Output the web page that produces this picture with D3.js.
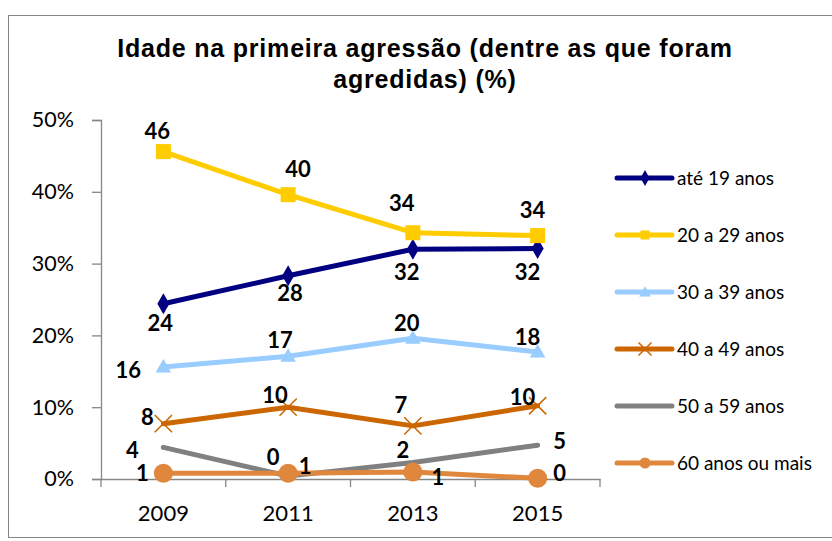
<!DOCTYPE html>
<html>
<head>
<meta charset="utf-8">
<script src="https://d3js.org/d3.v7.min.js"></script>
<style>
  body { margin: 0; background: #fff; }
</style>
</head>
<body>
<script>
// chart values (share of women, 0..1)
var years = ["2009", "2011", "2013", "2015"];
var seriesNames = ["até 19 anos", "20 a 29 anos", "30 a 39 anos", "40 a 49 anos", "50 a 59 anos", "60 anos ou mais"];
var ate19 = [0.244, 0.283, 0.320, 0.321];
var de20a29 = [0.456, 0.396, 0.343, 0.339];
var de30a39 = [0.156, 0.171, 0.196, 0.177];
var de40a49 = [0.077, 0.100, 0.074, 0.102];
var de50a59 = [0.044, 0.004, 0.023, 0.047];
var mais60 = [0.008, 0.008, 0.0097, 0.001];
var yTicks = [0, 0.1, 0.2, 0.3, 0.4, 0.5];

// look of each series
var colors = ["#000080", "#FFCC00", "#99CCFF", "#CC6600", "#808080", "#E0873E"];
var markers = ["diamond", "square", "triangle", "cross", "none", "circle"];

// where each data label sits relative to its point (dx, dy)
var labelOffsets = [
    [[-3, 19], [2, 17], [-6, 23], [-10, 24]],
    [[-6, -21], [10, -26], [-11, -30], [-5, -26]],
    [[-35, 3], [-8, -16], [-6, -15], [-10, -15]],
    [[-16, -7], [-13, -12], [-12, -21], [-15, -9]],
    [[-31, 3], [-15, -19], [-10, -12], [22, -4]],
    [[-21, 0], [17, -7], [25, 5], [22, -5]]
];

var allValues = [ate19, de20a29, de30a39, de40a49, de50a59, mais60];
var series = seriesNames.map(function (name, i) {
    return { name: name, values: allValues[i], color: colors[i], marker: markers[i], offsets: labelOffsets[i] };
});

var width = 832, height = 541;
var svg = d3.select("body").append("svg").attr("width", width).attr("height", height);

// outer chart border
svg.append("rect")
    .attr("x", 8.5).attr("y", 15.5)
    .attr("width", 830).attr("height", 522)
    .attr("fill", "#fff")
    .attr("stroke", "#868686")
    .attr("stroke-width", 1);

// title
var title = svg.append("text")
    .attr("text-anchor", "middle")
    .style("font-family", "'Liberation Sans', Arial, sans-serif")
    .style("font-weight", "bold")
    .style("font-size", "25px")
    .style("letter-spacing", "0.8px")
    .attr("fill", "#000");
title.append("tspan").attr("x", 425).attr("y", 57).text("Idade na primeira agressão (dentre as que foram");
title.append("tspan").attr("x", 425).attr("y", 88).text("agredidas) (%)");

var xScale = d3.scaleBand().domain(years).range([101, 600]);
var yScale = d3.scaleLinear().domain([0, 0.5]).range([479, 120]);
var xc = function (i) { return xScale(years[i]) + xScale.bandwidth() / 2; };

// y axis
var yAxis = svg.append("g")
    .attr("transform", "translate(101,0)")
    .call(d3.axisLeft(yScale).tickValues(yTicks).tickFormat(d3.format(".0%")).tickSize(9).tickPadding(18));
yAxis.select(".domain").attr("stroke", "#868686").attr("stroke-width", 1.3);
yAxis.selectAll(".tick line").attr("stroke", "#868686").attr("stroke-width", 1.3);
yAxis.selectAll(".tick text")
    .style("font-family", "Lato, 'Open Sans', sans-serif")
    .style("font-size", "21.5px")
    .attr("fill", "#000");

// x axis
var xAxis = svg.append("g")
    .attr("transform", "translate(0,479)")
    .call(d3.axisBottom(xScale).tickSize(0).tickPadding(26));
xAxis.select(".domain").attr("stroke", "#868686").attr("stroke-width", 1.3);
xAxis.selectAll(".tick text")
    .style("font-family", "Lato, 'Open Sans', sans-serif")
    .style("font-size", "22px")
    .attr("fill", "#000");
// category separators
var edges = [xScale.range()[0]].concat(years.map(function (d) { return xScale(d) + xScale.bandwidth(); }));
xAxis.selectAll(".sep")
    .data(edges)
    .enter().append("line")
    .attr("class", "sep")
    .attr("x1", function (d) { return d; })
    .attr("x2", function (d) { return d; })
    .attr("y1", 0).attr("y2", 8)
    .attr("stroke", "#868686").attr("stroke-width", 1.3);

var line = d3.line()
    .x(function (d, i) { return xc(i); })
    .y(function (d) { return yScale(d); });

function drawMarker(g, type, color, x, y, s) {
    if (type === "diamond") {
        g.append("path").attr("d", d3.symbol().type(d3.symbolDiamond).size(s * 9)())
            .attr("transform", "translate(" + x + "," + y + ")").attr("fill", color);
    } else if (type === "square") {
        g.append("rect").attr("x", x - s / 2 - 0.5).attr("y", y - s / 2 - 0.5)
            .attr("width", s + 1).attr("height", s + 1).attr("fill", color);
    } else if (type === "triangle") {
        g.append("path").attr("d", d3.symbol().type(d3.symbolTriangle).size(s * 7.5)())
            .attr("transform", "translate(" + x + "," + (y + 1) + ")").attr("fill", color);
    } else if (type === "cross") {
        g.append("path").attr("d", d3.symbol().type(d3.symbolX).size(s * 14)())
            .attr("transform", "translate(" + x + "," + y + ")")
            .attr("fill", "none").attr("stroke", color).attr("stroke-width", 1.5);
    } else if (type === "circle") {
        g.append("circle").attr("cx", x).attr("cy", y).attr("r", s * 0.66 + 0.3).attr("fill", color);
    }
}

var plot = svg.append("g");
series.forEach(function (s) {
    var g = plot.append("g");
    g.append("path")
        .datum(s.values)
        .attr("fill", "none")
        .attr("stroke", s.color)
        .attr("stroke-width", 5)
        .attr("stroke-linejoin", "round")
        .attr("stroke-linecap", "round")
        .attr("d", line);
    s.values.forEach(function (v, i) {
        drawMarker(g, s.marker, s.color, xc(i), yScale(v), 14);
    });
});

// data labels on top
series.forEach(function (s) {
    plot.append("g").selectAll("text")
        .data(s.values)
        .enter().append("text")
        .attr("x", function (d, i) { return xc(i) + s.offsets[i][0]; })
        .attr("y", function (d, i) { return yScale(d) + s.offsets[i][1]; })
        .attr("dy", "0.36em")
        .attr("text-anchor", "middle")
        .style("font-family", "Lato, 'Open Sans', sans-serif")
        .style("font-weight", "bold")
        .style("font-size", "22px")
        .attr("fill", "#000")
        .text(function (d) { return Math.round(d * 100); });
});

// legend
var legend = svg.append("g").selectAll("g")
    .data(series)
    .enter().append("g")
    .attr("transform", function (d, i) { return "translate(617," + (178 + i * 57) + ")"; });
legend.append("line")
    .attr("x1", 0).attr("x2", 55)
    .attr("stroke", function (d) { return d.color; })
    .attr("stroke-width", 5)
    .attr("stroke-linecap", "round");
legend.each(function (d) {
    drawMarker(d3.select(this), d.marker, d.color, 28, 0, 8);
});
legend.append("text")
    .attr("x", 60)
    .attr("dy", "0.36em")
    .style("font-family", "Lato, 'Open Sans', sans-serif")
    .style("font-size", "19px")
    .attr("fill", "#000")
    .text(function (d) { return d.name; });
</script>
</body>
</html>
